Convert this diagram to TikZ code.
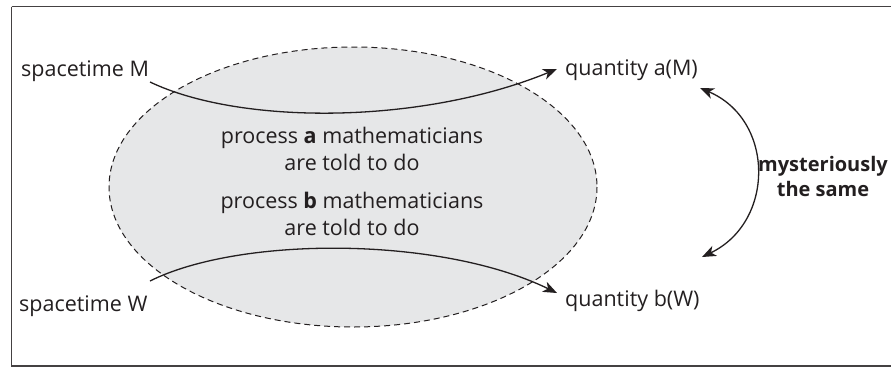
\documentclass[tikz,border=0pt]{standalone}
\usepackage{fontspec}
\setmainfont{Open Sans}
\usetikzlibrary{arrows.meta}
\definecolor{ellfill}{HTML}{E6E7E8}
\definecolor{ink}{HTML}{231F20}
\begin{document}
\begin{tikzpicture}[x=1pt,y=-1pt,
  lbl/.style={inner sep=0pt,font=\fontsize{21.5}{26}\selectfont,text=ink},
  bl/.style={inner sep=0pt,font=\fontsize{20}{26}\selectfont\bfseries,text=ink},
  conn/.style={draw=ink,line width=1.3pt,-{Stealth[length=14pt,width=11pt,inset=4pt]}},
  both/.style={draw=ink,line width=1.3pt,{Stealth[length=14pt,width=11pt,inset=4pt]}-{Stealth[length=14pt,width=11pt,inset=4pt]}}]
\useasboundingbox (0,0) rectangle (891,367);
\draw[ink!85,line width=1.6pt] (11.5,6.5) -- (893,6.5) (11.5,6.5) -- (11.5,366) -- (893,366);
\fill[ellfill] (353,187) ellipse [x radius=244, y radius=140];
\draw[ink,line width=1pt,dash pattern=on 6pt off 4pt] (353,187) ellipse [x radius=244, y radius=140];
\node[lbl,anchor=base west] (sM) at (21,76.5) {spacetime M};
\node[lbl,anchor=base west] (sW) at (19,311.5) {spacetime W};
\node[lbl,anchor=base west] (qa) at (565,75) {quantity a(M)};
\node[lbl,anchor=base west] (qb) at (565,306) {quantity b(W)};
\node[lbl,anchor=base] (pa1) at (352,143) {process \textbf{a} mathematicians};
\node[lbl,anchor=base] (pa2) at (352,170) {are told to do};
\node[lbl,anchor=base] (pb1) at (352,208) {process \textbf{b} mathematicians};
\node[lbl,anchor=base] (pb2) at (352,235) {are told to do};
\node[bl,anchor=base] (my1) at (823,171.5) {mysteriously};
\node[bl,anchor=base] (my2) at (823,196.5) {the same};
\coordinate (m0) at (150,82);
\coordinate (m1) at (557,69);
\coordinate (w0) at (150,281);
\coordinate (w1) at (557,293);
\coordinate (d0) at (700,88);
\coordinate (d1) at (702,257);
\draw[conn] (m0) .. controls (240,125) and (420,125) .. (m1);
\draw[conn] (w0) .. controls (240,236) and (440,236) .. (w1);
\draw[both] (d0) .. controls (775,120) and (775,222) .. (d1);
\end{tikzpicture}
\end{document}
